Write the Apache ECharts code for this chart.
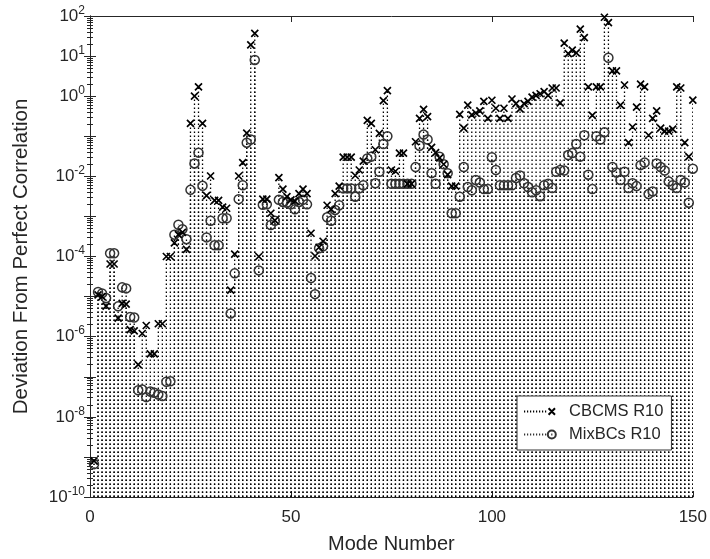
<!DOCTYPE html>
<html>
<head>
<meta charset="utf-8">
<script src="https://cdn.jsdelivr.net/npm/echarts@6/dist/echarts.min.js"></script>
<style>
html, body { margin: 0; padding: 0; background: #fff; }
#chart1 { width: 710px; height: 559px; }
</style>
</head>
<body>
<div id="chart1"></div>
<script>
// deviation per mode (mode number = index + 1)
var cbcms = [
    8e-10, 1.1e-5, 1.0e-5, 5.8e-6, 6.5e-5, 6.5e-5, 2.9e-6, 6.8e-6, 6.5e-6, 1.5e-6,
    1.4e-6, 2e-7, 1.2e-6, 1.9e-6, 3.7e-7, 3.7e-7, 2.1e-6, 2.1e-6, 1e-4, 1e-4,
    2.2e-4, 3.5e-4, 4e-4, 1.5e-4, 0.21, 1.0, 1.7, 0.21, 3.3e-3, 0.0102,
    2.5e-3, 2.5e-3, 1.7e-3, 1.6e-3, 1.45e-5, 1.15e-4, 0.0102, 0.022, 0.12, 19,
    37, 1e-4, 2.7e-3, 2.7e-3, 1.2e-3, 8e-4, 9.3e-3, 4.8e-3, 3.1e-3, 2.6e-3,
    2.4e-3, 3.7e-3, 4.8e-3, 3.7e-3, 3.8e-4, 1.03e-4, 1.7e-4, 2.4e-4, 1.9e-3, 1.5e-3,
    3.7e-3, 5.7e-3, 0.03, 0.03, 0.03, 0.0105, 0.0144, 0.024, 0.25, 0.21,
    0.046, 0.118, 0.77, 1.37, 0.0144, 0.0134, 0.038, 0.038, 6.5e-3, 6.5e-3,
    0.073, 0.28, 0.47, 0.31, 0.053, 0.039, 0.029, 0.020, 0.011, 5.7e-3,
    5.7e-3, 0.35, 0.16, 0.6, 0.34, 0.38, 0.43, 0.74, 0.28, 0.79,
    0.5, 0.28, 0.5, 0.28, 0.85, 0.65, 0.48, 0.65, 0.74, 0.95,
    1.05, 1.15, 1.3, 1.05, 1.6, 1.6, 0.68, 21, 11.5, 14,
    12, 47, 29, 1.7, 0.33, 1.7, 1.7, 93, 68, 4.3,
    4.3, 0.6, 1.9, 0.069, 0.17, 0.53, 2.0, 1.7, 0.106, 0.28,
    0.43, 0.16, 0.135, 0.135, 0.15, 1.7, 1.6, 0.069, 0.031, 0.8
];
var mixbcs = [
    6.6e-10, 1.3e-5, 1.2e-5, 9.2e-6, 1.2e-4, 1.2e-4, 5.7e-6, 1.7e-5, 1.6e-5, 3.1e-6,
    3.0e-6, 4.6e-8, 4.8e-8, 3.1e-8, 4.3e-8, 4.0e-8, 3.6e-8, 3.3e-8, 7.5e-8, 7.7e-8,
    3.5e-4, 6.2e-4, 4.8e-4, 2.7e-4, 4.6e-3, 0.021, 0.039, 5.8e-3, 3e-4, 7.8e-4,
    1.9e-4, 1.9e-4, 9e-4, 9e-4, 3.8e-6, 3.8e-5, 2.7e-3, 6e-3, 0.069, 0.083,
    8, 4.5e-5, 1.95e-3, 2e-3, 6.1e-4, 7.8e-4, 2.6e-3, 2.3e-3, 2.2e-3, 2.0e-3,
    1.5e-3, 2.3e-3, 2.6e-3, 2.0e-3, 2.9e-5, 1.15e-5, 1.6e-4, 1.8e-4, 9.5e-4, 7.8e-4,
    1.45e-3, 1.9e-3, 5e-3, 5e-3, 5e-3, 3.1e-3, 5e-3, 6e-3, 0.028, 0.031,
    6.7e-3, 0.013, 0.064, 0.10, 6.5e-3, 6.5e-3, 6.5e-3, 6.5e-3, 6.5e-3, 6.5e-3,
    0.017, 0.058, 0.11, 0.083, 0.012, 6.5e-3, 0.031, 0.020, 0.012, 1.2e-3,
    1.2e-3, 3.1e-3, 0.017, 5.4e-3, 4.5e-3, 8.1e-3, 7e-3, 4.8e-3, 4.8e-3, 0.03,
    0.0144, 6e-3, 6e-3, 6e-3, 6e-3, 9.1e-3, 0.0105, 6.7e-3, 5.4e-3, 4e-3,
    4.5e-3, 3.2e-3, 6e-3, 6.5e-3, 5.1e-3, 0.013, 0.0144, 0.0139, 0.034, 0.038,
    0.064, 0.031, 0.106, 0.011, 4.8e-3, 0.1, 0.083, 0.125, 9.1, 0.017,
    0.0125, 8.1e-3, 0.013, 5.1e-3, 6.7e-3, 5.7e-3, 0.019, 0.022, 3.6e-3, 4.2e-3,
    0.021, 0.017, 0.0139, 7.4e-3, 6e-3, 5.1e-3, 8.1e-3, 7e-3, 2.2e-3, 0.0155
];
var seriesNames = ['CBCMS R10', 'MixBCs R10'];
var yLabelExps = [2, 1, 0, -2, -4, -6, -8, -10];
var xTicks = [0, 50, 100, 150];

var yMin = 1e-10, yMax = 1e2;
var font = 'Liberation Sans, Arial, Helvetica, sans-serif';
var ink = '#262626';

function toPairs (arr) {
    return arr.map(function (v, i) { return [i + 1, v]; });
}

// dotted stem from the bottom of the axes up to the value
function stemItem (params, api) {
    var top = api.coord([api.value(0), api.value(1)]);
    var base = api.coord([api.value(0), yMin]);
    return {
        type: 'line',
        shape: { x1: top[0], y1: base[1], x2: top[0], y2: top[1] },
        style: { stroke: '#000', lineWidth: 1.3, lineDash: [1.5, 2.5] }
    };
}

function legendIcon (marker) {
    var dots = '';
    for (var k = 0; k < 8; k++) {
        dots += 'M' + (k * 3) + ',5L' + (k * 3 + 1.2) + ',5';
    }
    return 'path://M0,0M40,10' + dots + marker;
}

var myChart = echarts.init(document.getElementById('chart1'));

var xBase = {
    type: 'value', min: xTicks[0], max: xTicks[xTicks.length - 1], interval: 50,
    axisLine: { lineStyle: { color: ink, width: 1 } },
    axisTick: { inside: true, length: 6, lineStyle: { color: ink } },
    splitLine: { show: false }
};
var yBase = {
    type: 'log', logBase: 10, min: yMin, max: yMax, interval: 1,
    axisLine: { show: true, lineStyle: { color: ink, width: 1 } },
    axisTick: { inside: true, length: 6, lineStyle: { color: ink } },
    minorTick: { show: true, splitNumber: 9, length: 3, lineStyle: { color: ink } },
    splitLine: { show: false }
};

var option = {
    animation: false,
    backgroundColor: '#fff',
    grid: { left: 90, right: 13, top: 16, bottom: 62, containLabel: false },
    legend: {
        orient: 'vertical',
        left: 517, top: 396,
        padding: [7, 8, 7, 6],
        itemGap: 6,
        itemWidth: 40, itemHeight: 10,
        backgroundColor: '#fff',
        borderColor: '#333', borderWidth: 1,
        textStyle: { fontFamily: font, fontSize: 16.5, color: ink, lineHeight: 16 },
        data: [
            { name: seriesNames[0], icon: legendIcon('M24.6,1.8L31,8.2M31,1.8L24.6,8.2') },
            { name: seriesNames[1], icon: legendIcon('M23.8,5A4,4 0 1,1 31.8,5A4,4 0 1,1 23.8,5M27.2,5L28.4,5') }
        ]
    },
    xAxis: [
        Object.assign({}, xBase, {
            position: 'bottom',
            name: 'Mode Number', nameLocation: 'middle', nameGap: 37,
            nameTextStyle: { fontFamily: font, fontSize: 20, color: ink },
            axisLabel: { margin: 12, fontFamily: font, fontSize: 17, color: ink }
        }),
        Object.assign({}, xBase, { position: 'top', axisLabel: { show: false } })
    ],
    yAxis: [
        Object.assign({}, yBase, {
            position: 'left',
            name: 'Deviation From Perfect Correlation', nameLocation: 'middle', nameGap: 58,
            nameTextStyle: { fontFamily: font, fontSize: 20.5, color: ink },
            axisLabel: {
                margin: 5, fontFamily: font, color: ink,
                formatter: function (v) {
                    var e = Math.round(Math.log10(v));
                    if (yLabelExps.indexOf(e) < 0) return '';
                    return '{b|10}{s|' + e + '}';
                },
                rich: {
                    b: { fontFamily: font, fontSize: 17, color: ink },
                    s: { fontFamily: font, fontSize: 12, color: ink, padding: [0, 0, 11, 0] }
                }
            }
        }),
        Object.assign({}, yBase, { position: 'right', axisLabel: { show: false } })
    ],
    series: [
        {
            name: 'stem1', type: 'custom', z: 1, silent: true,
            renderItem: stemItem, data: toPairs(cbcms), clip: true
        },
        {
            name: 'stem2', type: 'custom', z: 1, silent: true,
            renderItem: stemItem, data: toPairs(mixbcs), clip: true
        },
        {
            name: seriesNames[0], type: 'scatter', z: 3,
            symbol: 'path://M0,0L10,10M10,0L0,10', symbolSize: 7,
            itemStyle: { color: 'transparent', borderColor: '#000', borderWidth: 1.7, opacity: 1 },
            data: toPairs(cbcms)
        },
        {
            name: seriesNames[1], type: 'scatter', z: 2,
            symbol: 'circle', symbolSize: 9,
            itemStyle: { color: 'transparent', borderColor: '#333', borderWidth: 1.5, opacity: 1 },
            data: toPairs(mixbcs)
        }
    ]
};
myChart.setOption(option);
window.onresize = myChart.resize;
</script>
</body>
</html>
